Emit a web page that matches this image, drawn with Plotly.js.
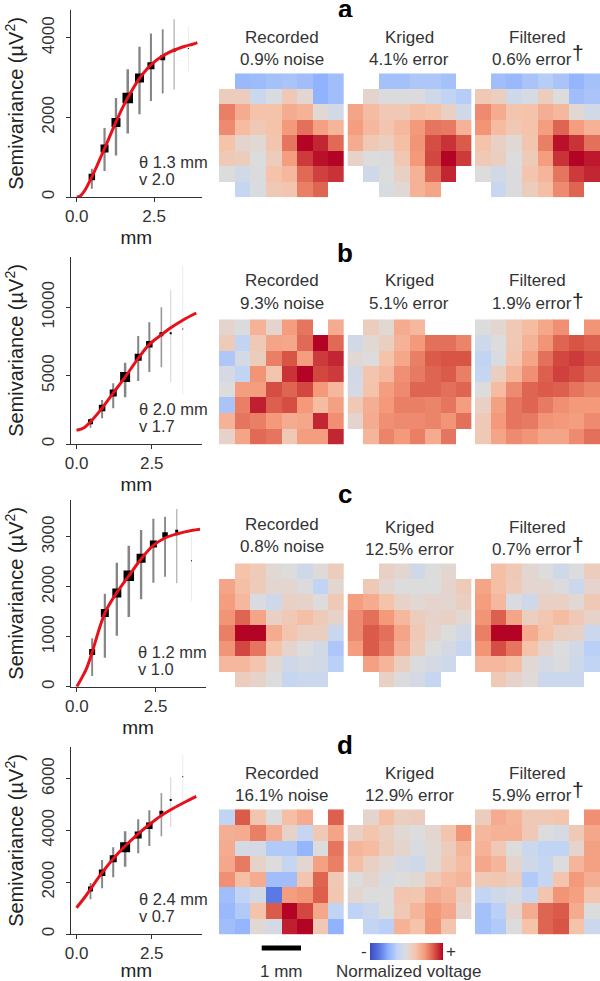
<!DOCTYPE html>
<html><head><meta charset="utf-8">
<script src="https://cdn.plot.ly/plotly-3.0.1.min.js"></script>
<style>html,body{margin:0;padding:0;background:#fff}#chart{width:600px;height:981px}</style>
</head><body><div id="chart"></div>
<script>
const _ = null;
// ---------- empirical variograms (mm, µV²) ----------
const aDist=[0.49,0.90,1.27,1.65,2.03,2.40,2.78,3.15,3.61];
const aMean=[503,1216,1870,2490,2994,3296,3497,3690,3730];
const aLow=[210,654,1040,1593,2080,2415,2600,2700,3145];
const aHigh=[713,1736,2490,3212,3774,4109,4218,4470,4277];
const aWeight=[6.5,8,9,10.5,9,7,5,3,1];
const aFitX=[0,0.1,0.25,0.5,0.75,1,1.25,1.5,1.75,2,2.25,2.5,2.75,3,3.25,3.5,3.75,3.9];
const aFitY=[0,15,150,520,950,1400,1850,2270,2630,2950,3200,3390,3530,3640,3720,3790,3840,3880];

const bDist=[0.465,0.85,1.22,1.615,2.05,2.42,2.82,3.13,3.53];
const bMean=[1634,2634,3732,4902,6341,7293,8024,8098,8415];
const bLow=[1195,1878,2610,3415,4610,5268,5610,4512,3659];
const bHigh=[1878,3220,4439,5951,7902,8902,10000,11268,13049];
const bWeight=[5,6.5,7,10,7,6.5,4,2,1];
const bFitX=[0,0.25,0.465,0.85,1.22,1.615,2.05,2.42,2.82,3.13,3.53,3.98];
const bFitY=[1000,1195,1630,2630,3730,4900,6270,7290,7990,8500,9060,9585];

const cDist=[0.487,0.89,1.27,1.65,2.04,2.43,2.80,3.17,3.64];
const cMean=[695,1476,1877,2224,2572,2859,3039,3113,2525];
const cLow=[214,581,1022,1396,1750,2084,2204,2071,1717];
const cHigh=[969,1864,2485,2826,3140,3367,3407,3560,3053];
const cWeight=[6,8,9,10.5,9,7,5.5,3,1];
const cFitX=[0,0.15,0.31,0.487,0.89,1.27,1.65,2.04,2.43,2.8,3.17,3.64,3.91];
const cFitY=[0,167,367,690,1476,1884,2220,2560,2830,2980,3060,3130,3155];

const dDist=[0.465,0.85,1.22,1.615,2.05,2.42,2.82,3.13,3.53];
const dMean=[1738,2369,2910,3347,3824,4184,4686,5176,6077];
const dLow=[1339,1764,2189,2600,3116,3399,3772,4120,4828];
const dHigh=[1970,2858,3347,3966,4429,4777,5446,6051,6914];
const dWeight=[5,6.5,7,10,7,6.5,4,2,1];
const dFitX=[0,0.25,0.465,0.85,1.22,1.615,2.05,2.42,2.82,3.13,3.53,3.98];
const dFitY=[1017,1380,1738,2369,2910,3400,3870,4230,4580,4800,5050,5317];

// ---------- y ticks ----------
const aTicks=[0,2000,4000], bTicks=[0,5000,10000], cTicks=[0,1000,2000,3000], dTicks=[0,2000,4000,6000];
const xTicks=[0,2.5], xTickLabels=['0.0','2.5'];

// ---------- normalized voltage grids (0 = most negative, 100 = most positive; blank = no electrode) ----------
const aRecorded=[
[_,28,29,31,32,30,26,30],[58,58,42,48,60,53,26,30],[80,70,63,63,70,68,52,45],[78,65,60,63,75,83,73,67],
[63,54,52,62,82,100,95,84],[60,58,50,58,74,92,98,100],[50,45,49,63,66,84,91,93],[_,40,48,60,62,80,85,_]];
const aKriged=[
[_,_,31,31,33,33,31,_],[_,54,49,49,49,44,38,35],[72,65,60,60,64,63,56,44],[74,66,62,66,75,82,81,68],
[70,60,57,64,76,89,93,87],[55,50,49,61,75,90,100,92],[_,44,50,56,68,84,95,_],[_,_,48,52,68,72,_,_]];
const aFiltered=[
[_,30,28,32,35,32,27,31],[60,57,44,47,58,50,30,32],[78,70,62,63,69,66,52,45],[76,65,60,63,74,85,74,68],
[63,56,52,62,80,98,93,83],[60,57,50,59,74,93,100,97],[50,45,49,62,67,82,92,95],[_,41,49,58,64,78,85,_]];

const bRecorded=[
[54,49,68,54,74,82,_,70],[59,38,60,72,71,84,100,84],[33,46,58,80,88,74,92,95],[46,38,76,62,93,100,90,92],
[50,74,74,89,85,90,75,66],[32,80,96,86,89,75,65,73],[68,82,80,75,70,71,95,77],[55,72,84,82,60,74,74,95]];
const bKriged=[
[_,58,52,70,66,_,_,_],[45,52,57,68,75,83,83,79],[52,50,63,71,80,87,88,88],[45,62,66,77,81,85,87,80],
[46,63,74,78,85,85,83,85],[60,69,75,80,80,79,82,74],[54,70,77,78,78,79,76,83],[_,67,79,75,80,70,82,_]];
const bFiltered=[
[50,53,60,65,71,77,_,76],[43,50,60,68,76,85,88,86],[38,48,62,72,83,90,92,89],[40,57,67,77,86,91,89,85],
[50,65,78,85,87,86,82,79],[56,73,82,85,81,77,75,75],[60,75,82,81,76,75,74,78],[60,72,78,76,72,72,78,83]];

const cRecorded=[
[_,63,59,52,50,44,51,58],[72,64,59,53,53,49,38,53],[74,66,48,44,56,55,50,60],[76,85,72,56,60,64,59,55],
[80,100,100,70,62,57,57,41],[76,90,82,63,54,50,45,33],[66,66,62,52,44,46,45,36],[_,58,55,50,40,42,42,_]];
const cKriged=[
[_,_,56,53,44,50,53,_],[_,60,53,50,50,50,54,59],[74,70,63,55,52,54,53,57],[78,83,75,66,58,55,56,52],
[78,87,83,72,60,54,50,45],[74,87,81,69,58,50,46,40],[_,73,67,57,49,46,43,_],[_,_,56,49,46,40,_,_]];
const cFiltered=[
[_,64,60,53,50,44,50,58],[72,64,59,53,53,49,42,54],[74,66,48,44,56,56,52,60],[76,86,72,57,61,65,60,55],
[80,100,100,70,63,57,56,42],[76,89,82,63,54,50,45,36],[66,66,64,52,46,49,43,38],[_,60,55,51,42,42,42,_]];

const dRecorded=[
[38,87,62,50,64,70,_,86],[69,70,80,70,55,40,60,72],[70,46,46,34,34,27,50,82],[71,81,55,50,40,53,73,80],
[77,64,70,30,30,62,85,60],[30,38,45,13,74,76,86,61],[28,34,63,87,100,90,71,38],[30,27,52,46,96,100,60,26]];
const dKriged=[
[_,54,64,57,58,_,_,_],[56,62,57,52,50,53,62,76],[67,65,58,54,48,52,58,67],[64,56,52,46,44,52,60,65],
[50,54,48,50,52,60,65,67],[53,50,50,62,61,70,67,57],[37,42,50,60,67,75,71,54],[_,39,36,68,63,76,62,_]];
const dFiltered=[
[58,70,67,60,60,62,_,77],[66,68,68,60,50,47,60,71],[68,60,50,42,38,38,54,73],[71,67,54,44,40,50,67,73],
[60,61,58,34,40,62,75,69],[39,44,47,40,62,76,73,62],[31,36,54,70,85,87,70,50],[31,34,50,63,85,88,63,42]];

// ---------- labels ----------
const fitLabels=[['θ 1.3 mm','v 2.0'],['θ 2.0 mm','v 1.7'],['θ 1.2 mm','v 1.0'],['θ 2.4 mm','v 0.7']];
const recordedNotes=['0.9% noise','9.3% noise','0.8% noise','16.1% noise'];
const krigedNotes=['4.1% error','5.1% error','12.5% error','12.9% error'];
const filteredNotes=['0.6% error','1.9% error','0.7% error','5.9% error'];
const panelLetters=['a','b','c','d'];

// ---------- layout helpers ----------
const W=600,H=981,FONT='"Liberation Sans", Arial, Helvetica, sans-serif';
const TXT='#333333';
const px=x=>x/W, py=y=>1-y/H;
const coolwarm=[[0,'#3b4cc0'],[0.125,'#5977e3'],[0.25,'#8db0fe'],[0.375,'#c0d4f5'],[0.5,'#dddcdc'],
  [0.625,'#f5c4ac'],[0.75,'#f49a7b'],[0.875,'#d95847'],[1,'#b40426']];

const variograms=[
 {d:aDist,m:aMean,lo:aLow,hi:aHigh,w:aWeight,fx:aFitX,fy:aFitY,t:aTicks,top:10,bottom:197,xr:[-0.2,4.05],yr:[0,4700],right:202},
 {d:bDist,m:bMean,lo:bLow,hi:bHigh,w:bWeight,fx:bFitX,fy:bFitY,t:bTicks,top:257,bottom:444,xr:[-0.2,4.17],yr:[0,13683],right:202},
 {d:cDist,m:cMean,lo:cLow,hi:cHigh,w:cWeight,fx:cFitX,fy:cFitY,t:cTicks,top:500,bottom:686.7,xr:[-0.2,4.09],yr:[0,3741],right:205.7},
 {d:dDist,m:dMean,lo:dLow,hi:dHigh,w:dWeight,fx:dFitX,fy:dFitY,t:dTicks,top:747,bottom:934,xr:[-0.2,4.17],yr:[0,7223],right:202}
];
const grids=[[aRecorded,aKriged,aFiltered],[bRecorded,bKriged,bFiltered],[cRecorded,cKriged,cFiltered],[dRecorded,dKriged,dFiltered]];
const mapRows=[[73.3,197.3],[319.3,444.7],[563.3,687.3],[809.3,934.7]];
const mapCols=[[219,343.7],[347.5,471.7],[475,600]];

const data=[],layout={width:W,height:H,margin:{l:0,r:0,t:0,b:0,autoexpand:false},paper_bgcolor:'#fff',plot_bgcolor:'#fff',
  showlegend:false,font:{family:FONT,color:TXT,size:17},annotations:[],shapes:[]};
let axN=0;
function newAxes(){axN++;const s=axN===1?'':String(axN);return {xn:'xaxis'+s,yn:'yaxis'+s,x:'x'+s,y:'y'+s};}
function note(text,x,y,size,anchor,color){
  layout.annotations.push({xref:'paper',yref:'paper',x:px(x),y:py(y),xanchor:anchor||'center',yanchor:'middle',text:text,showarrow:false,
    font:{size:size||17,color:color||TXT,family:FONT}});
}

variograms.forEach((v,i)=>{
  const a=newAxes();
  layout[a.xn]={domain:[px(70.5),px(v.right)],range:v.xr,anchor:a.y,showgrid:false,zeroline:false,showline:true,
    linecolor:'#333',linewidth:1,ticks:'outside',ticklen:4,tickcolor:'#333',tickvals:xTicks,ticktext:xTickLabels,
    tickfont:{size:17,color:TXT,family:FONT},
    title:{text:'mm',font:{size:19,color:'#222',family:FONT},standoff:5}};
  layout[a.yn]={domain:[py(v.bottom),py(v.top)],range:v.yr,anchor:a.x,showgrid:false,zeroline:false,showline:true,
    linecolor:'#333',linewidth:1,ticks:'outside',ticklen:4,tickcolor:'#333',tickvals:v.t,ticktext:v.t.map(String),tickangle:-90,
    ticklabelstandoff:5,tickfont:{size:17,color:TXT,family:FONT},
    title:{text:'Semivariance (µV<sup>2</sup>)',font:{size:20,color:'#222',family:FONT},standoff:9}};
  v.d.forEach((d,j)=>{
    const op=Math.max(0.07,Math.min(0.48,0.13*v.w[j]-0.12));
    data.push({type:'scatter',mode:'lines',x:[d,d],y:[v.lo[j],v.hi[j]],xaxis:a.x,yaxis:a.y,hoverinfo:'skip',
      line:{color:'rgba(0,0,0,'+op+')',width:1+v.w[j]*0.15}});
  });
  data.push({type:'scatter',mode:'markers',x:v.d,y:v.m,xaxis:a.x,yaxis:a.y,
    marker:{symbol:'square',color:'#000',opacity:1,size:v.w.map(w=>w<=1?1:w),line:{width:0}}});
  data.push({type:'scatter',mode:'lines',x:v.fx,y:v.fy,xaxis:a.x,yaxis:a.y,line:{color:'#e8101a',width:3,shape:'spline'},cliponaxis:false});
  const base=[162,409,652.3,899][i], left=i===2?136:137;
  fitLabels[i].forEach((t,k)=>note(t,left,base+k*17,16.5,'left'));
});

grids.forEach((row,i)=>{
  row.forEach((z,j)=>{
    const a=newAxes();
    const hid={visible:false,showgrid:false,zeroline:false,fixedrange:true};
    layout[a.xn]=Object.assign({domain:[px(mapCols[j][0]),px(mapCols[j][1])],range:[-0.5,7.5],anchor:a.y},hid);
    layout[a.yn]=Object.assign({domain:[py(mapRows[i][1]),py(mapRows[i][0])],range:[7.5,-0.5],anchor:a.x},hid);
    const tr={type:'heatmap',z:z,xaxis:a.x,yaxis:a.y,zmin:0,zmax:100,colorscale:coolwarm,showscale:false,hoverongaps:false};
    if(i===3&&j===0){
      tr.showscale=true;
      tr.colorbar={orientation:'h',x:px(406.7),xanchor:'center',y:py(942.7),yanchor:'top',len:73,lenmode:'pixels',
        thickness:17,thicknessmode:'pixels',xpad:0,ypad:0,outlinewidth:0,ticks:'',showticklabels:false,borderwidth:0};
    }
    data.push(tr);
  });
});

// ---------- text above the maps ----------
const titleY=[[48,48,48],[292,292,292],[535,538.5,538.5],[784,784,784]];
const letterY=[8.5,253,494,745];
const daggerY=[53,300,544,789.5];
panelLetters.forEach((c,i)=>{
  note('<b>'+c+'</b>',345,letterY[i],26,'center','#000');
  if(i===0){const n=layout.annotations[layout.annotations.length-1];n.height=17;}
  note('Recorded',281.5,titleY[i][0]-11);
  note(recordedNotes[i],281.5,titleY[i][0]+11);
  note('Kriged',409,titleY[i][1]-11);
  note(krigedNotes[i],409,titleY[i][1]+11);
  note('Filtered',537.5,titleY[i][2]-11);
  note(filteredNotes[i],532,titleY[i][2]+11);
  note('†',577.5,daggerY[i],21,'center','#222');
});

// ---------- scale bar and colour legend ----------
layout.shapes.push({type:'rect',xref:'paper',yref:'paper',x0:px(261.7),x1:px(301),y0:py(950.5),y1:py(945.5),fillcolor:'#000',line:{width:0}});
note('1 mm',281,971);
note('Normalized voltage',409,971.5);
note('-',364,951);
note('+',451,951.5);

Plotly.newPlot('chart',data,layout,{staticPlot:true,displayModeBar:false});
</script></body></html>
